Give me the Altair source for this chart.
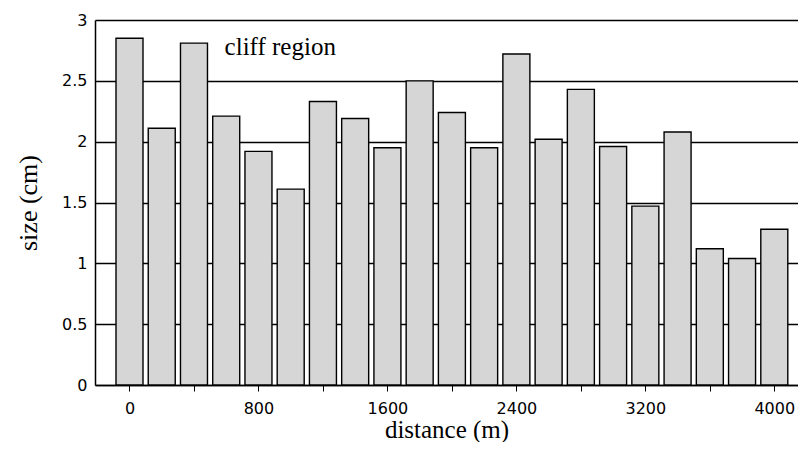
import altair as alt
import pandas as pd

# Data
distance = [0, 200, 400, 600, 800, 1000, 1200, 1400, 1600, 1800, 2000,
            2200, 2400, 2600, 2800, 3000, 3200, 3400, 3600, 3800, 4000]
size_cm = [2.85, 2.11, 2.81, 2.21, 1.92, 1.61, 2.33, 2.19, 1.95, 2.50, 2.24,
           1.95, 2.72, 2.02, 2.43, 1.96, 1.47, 2.08, 1.12, 1.04, 1.28]
x_tick_values = distance
x_label_step = 800
y_tick_values = [0, 0.5, 1, 1.5, 2, 2.5, 3]
annotation_text = ["cliff region"]
annotation_x = [590]
annotation_y = [2.71]

df = pd.DataFrame({"distance": distance, "size": size_cm})
ann = pd.DataFrame({"x": annotation_x, "y": annotation_y, "text": annotation_text})

x_scale = alt.Scale(domain=[-183, 4116], nice=False, zero=False)
y_scale = alt.Scale(domain=[0, 3], nice=False)

bars = alt.Chart(df).mark_bar(
    size=27, fill="#d6d6d6", stroke="black", strokeWidth=1.4
).encode(
    x=alt.X(
        "distance:Q",
        scale=x_scale,
        axis=alt.Axis(
            values=x_tick_values,
            format="d",
            labelExpr=f"datum.value % {x_label_step} == 0 ? datum.label : ''",
            title="distance (m)",
            grid=False,
            domainColor="black",
            domainWidth=1.5,
            tickColor="black",
            tickSize=6,
            tickWidth=1,
            labelFont="DejaVu Sans",
            labelFontSize=16,
            labelColor="black",
            labelPadding=9,
            labelFlush=False,
            titleFont="Liberation Serif",
            titleFontSize=25,
            titleFontWeight="normal",
            titleColor="black",
            titlePadding=1,
        ),
    ),
    y=alt.Y(
        "size:Q",
        scale=y_scale,
        axis=alt.Axis(
            values=y_tick_values,
            format="~g",
            title="size (cm)",
            grid=True,
            gridColor="black",
            gridWidth=1.5,
            gridOpacity=1,
            ticks=False,
            domainColor="black",
            domainWidth=1.5,
            labelFont="DejaVu Sans",
            labelFontSize=16,
            labelColor="black",
            labelPadding=8,
            titleFont="Liberation Serif",
            titleFontSize=26,
            titleFontWeight="normal",
            titleColor="black",
            titlePadding=20,
        ),
    ),
)

label = alt.Chart(ann).mark_text(
    align="left", baseline="alphabetic", font="Liberation Serif",
    fontSize=25, color="black"
).encode(
    x=alt.X("x:Q", scale=x_scale),
    y=alt.Y("y:Q", scale=y_scale),
    text="text:N",
)

chart = alt.layer(bars, label).properties(
    width=703,
    height=365,
    autosize=alt.AutoSizeParams(type="none"),
    padding={"left": 87, "top": 12, "right": 0, "bottom": 57},
    background="white",
).configure_view(strokeWidth=0)

chart.save("out.html", embed_options={"renderer": "svg", "actions": False})
